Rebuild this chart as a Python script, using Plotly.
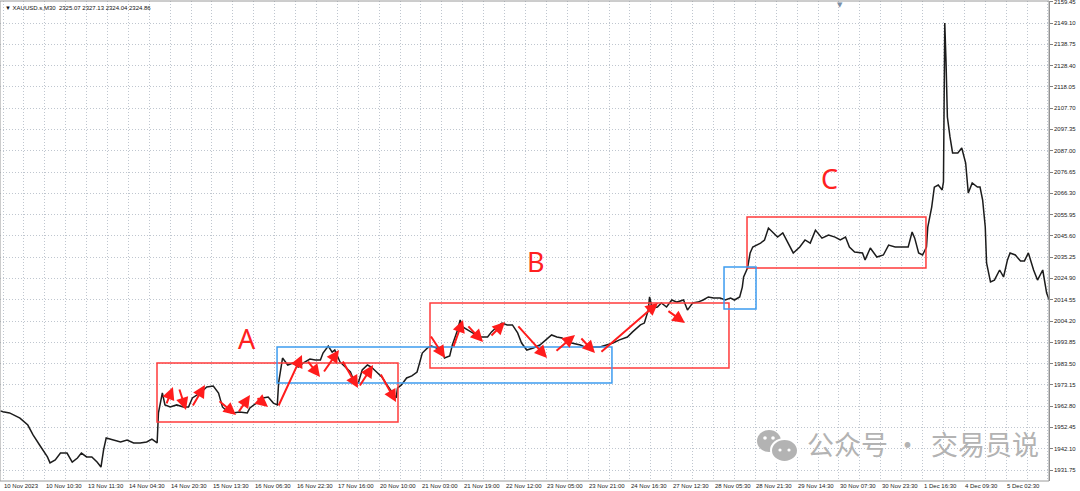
import plotly.graph_objects as go

# ---------------- data ----------------
bar_index = [-2, 0, 5, 13, 19, 23, 28, 34, 36, 40, 44, 49, 53, 57, 60, 64, 68, 72, 75, 77, 79,
             84, 90, 95, 100, 105, 110, 114, 118, 119, 122, 124, 128, 133, 138, 142, 145, 151,
             156, 161, 165, 168, 172, 176, 181, 187, 189, 194, 199, 203, 207, 210, 211, 214,
             218, 222, 226, 230, 235, 239, 243, 245, 249, 252, 254, 258, 262, 266, 269, 272,
             275, 279, 282, 286, 290, 294, 298, 301, 302, 305, 309, 313, 317, 319, 321, 325,
             328, 332, 336, 338, 342, 344, 348, 350, 352, 356, 360, 365, 371, 374, 378, 382,
             386, 390, 394, 397, 401, 406, 411, 416, 420, 424, 428, 432, 436, 442, 447, 452,
             457, 462, 467, 472, 478, 482, 488, 491, 494, 495, 497, 501, 504, 508, 512, 516,
             521, 524, 528, 532, 536, 540, 544, 549, 553, 557, 560, 564, 566, 567, 570, 572,
             574, 580, 583, 586, 589, 593, 597, 600, 605, 610, 614, 618, 622, 627, 632, 637,
             641, 645, 648, 652, 658, 660, 664, 669, 674, 678, 683, 688, 693, 696, 698, 701,
             704, 707, 708, 711, 713, 716, 719, 720, 721, 722, 723, 725, 727, 731, 734, 737,
             739, 742, 746, 748, 750, 752, 753, 756, 759, 763, 766, 769, 771, 775, 779, 782,
             785, 789, 792, 796, 799, 801]

close_price = [1960.5, 1960.1, 1959.5, 1957.0, 1953.6, 1948.8, 1943.9, 1938.1, 1935.2, 1936.6,
               1940.0, 1940.0, 1935.6, 1937.6, 1940.0, 1938.1, 1938.1, 1935.6, 1933.2, 1941.5,
               1947.3, 1946.3, 1945.4, 1946.3, 1944.9, 1944.9, 1945.4, 1946.8, 1944.9, 1959.5,
               1969.2, 1963.4, 1962.4, 1963.4, 1962.4, 1962.4, 1966.8, 1969.2, 1972.1, 1972.6,
               1969.2, 1962.4, 1960.0, 1959.5, 1960.0, 1959.5, 1961.9, 1964.3, 1966.8, 1967.2,
               1964.3, 1963.4, 1974.1, 1986.2, 1982.8, 1983.8, 1981.8, 1983.8, 1985.7, 1985.2,
               1985.2, 1988.6, 1992.0, 1989.1, 1990.1, 1984.3, 1981.8, 1979.4, 1974.5, 1974.1,
               1980.4, 1982.8, 1981.8, 1979.4, 1977.0, 1973.1, 1969.7, 1966.8, 1971.6, 1973.1,
               1976.5, 1977.5, 1979.4, 1983.8, 1988.6, 1991.1, 1992.0, 1991.1, 1990.1, 1986.2,
               1987.2, 1992.5, 1999.8, 2004.7, 2001.3, 1999.8, 1998.4, 1996.4, 1996.4, 1998.9,
               2001.3, 2003.2, 2002.3, 2002.3, 1998.4, 1993.5, 1990.1, 1991.1, 1992.5, 1995.0,
               1997.4, 1996.4, 1995.9, 1994.0, 1993.5, 1992.5, 1991.1, 1991.6, 1991.6, 1992.5,
               1993.5, 1995.0, 1996.4, 1998.9, 2002.3, 2003.2, 2009.5, 2015.9, 2010.5, 2011.0,
               2013.0, 2011.0, 2014.4, 2013.4, 2014.4, 2009.5, 2013.0, 2013.4, 2014.4, 2015.9,
               2015.4, 2015.4, 2014.4, 2015.4, 2014.4, 2015.9, 2020.7, 2025.6, 2030.0, 2037.3,
               2040.2, 2042.1, 2043.6, 2049.4, 2047.5, 2045.0, 2047.0, 2043.6, 2037.3, 2040.2,
               2043.6, 2042.1, 2048.4, 2044.5, 2046.0, 2045.0, 2043.6, 2045.0, 2040.2, 2037.7,
               2037.3, 2033.9, 2039.7, 2035.3, 2036.3, 2041.1, 2040.2, 2040.2, 2040.2, 2047.5,
               2044.5, 2037.3, 2036.3, 2040.2, 2049.9, 2059.6, 2069.3, 2070.3, 2067.9, 2071.8,
               2149.1, 2129.6, 2103.4, 2093.7, 2085.9, 2085.9, 2088.3, 2081.0, 2066.4, 2071.3,
               2069.3, 2069.3, 2063.0, 2049.9, 2032.4, 2023.2, 2024.1, 2029.0, 2025.6, 2033.9,
               2037.3, 2036.3, 2033.4, 2033.4, 2037.3, 2029.0, 2024.1, 2029.0, 2017.8, 2014.4]

price_tick_labels = ["1931.75", "1942.10", "1952.45", "1962.80", "1973.15", "1983.50", "1993.85",
                     "2004.20", "2014.55", "2024.90", "2035.25", "2045.60", "2055.95", "2066.30",
                     "2076.65", "2087.00", "2097.35", "2107.70", "2118.05", "2128.40", "2138.75",
                     "2149.10", "2159.45"]

time_labels = ["10 Nov 2023", "10 Nov 10:30", "13 Nov 11:30", "14 Nov 04:30", "14 Nov 20:30",
               "15 Nov 13:30", "16 Nov 06:30", "16 Nov 22:30", "17 Nov 16:00", "20 Nov 10:00",
               "21 Nov 03:00", "21 Nov 19:00", "22 Nov 12:00", "23 Nov 05:00", "23 Nov 21:00",
               "24 Nov 16:30", "27 Nov 12:30", "28 Nov 05:30", "28 Nov 21:30", "29 Nov 14:30",
               "30 Nov 07:30", "30 Nov 23:30", "1 Dec 16:30", "4 Dec 09:30", "5 Dec 02:30"]
bars_per_label = 32

# drawn objects on the chart (bar index / price)
red_boxes = [(117.9, 302.4, 1955.1, 1983.8),
             (326.9, 555.8, 1981.3, 2013.0),
             (569.6, 706.6, 2030.0, 2054.8)]
blue_boxes = [(209.8, 466.2, 1974.0, 1991.6),
              (552.0, 576.5, 2010.0, 2030.5)]
zone_letters = [("A", 186.8, 1995.9), ("B", 408.0, 2032.9), ("C", 633.1, 2073.7)]
# (tail bar, tail price, head bar, head price)
arrows = [(124.8, 1963.4, 130.1, 1972.1), (134.7, 1971.6, 140.1, 1960.9),
          (144.7, 1962.4, 154.6, 1973.1), (164.6, 1965.8, 178.4, 1958.5),
          (179.9, 1959.5, 189.1, 1968.2), (193.7, 1967.2, 202.9, 1962.4),
          (210.5, 1962.4, 228.9, 1987.7), (232.7, 1985.2, 242.7, 1977.0),
          (245.0, 1978.9, 257.2, 1990.1), (259.5, 1985.2, 271.8, 1971.6),
          (272.5, 1972.1, 283.3, 1982.8), (288.6, 1978.9, 300.9, 1964.8),
          (326.9, 1997.4, 338.4, 1986.2), (344.5, 1991.1, 352.2, 2004.7),
          (355.2, 2002.3, 367.5, 1994.0), (372.8, 1996.4, 384.3, 2003.7),
          (393.5, 2002.3, 416.5, 1986.2), (422.6, 1989.1, 437.9, 1997.4),
          (441.7, 1996.4, 453.2, 1988.6), (457.0, 1988.6, 501.4, 2013.0),
          (508.3, 2009.5, 522.1, 2003.2)]

# ---------------- figure ----------------
W, H = 1080, 491
ML, MR, MT, MB = 0, 31, 1, 10
PW, PH = W - ML - MR, H - MT - MB


def px(xp):
    return (xp - ML) / PW


def py(yp):
    return (H - MB - yp) / PH


fig = go.Figure()
fig.add_trace(go.Scatter(x=bar_index, y=close_price, mode="lines",
                         line=dict(color="#1c1c1c", width=1.5), hoverinfo="skip",
                         showlegend=False))

grid_color = "#bfc6cf"
fig.update_xaxes(range=[-2.3, 800.8], tickvals=list(range(0, 801, bars_per_label // 2)),
                 showticklabels=False, ticks="", showgrid=True, gridcolor=grid_color,
                 gridwidth=1, griddash="1px,2px", zeroline=False, showline=False,
                 fixedrange=True)
fig.update_yaxes(side="right", range=[1926.4, 2159.8],
                 tickvals=[float(v) for v in price_tick_labels], showticklabels=False,
                 ticks="outside", ticklen=3, tickcolor="#808080",
                 showgrid=True, gridcolor=grid_color, gridwidth=1, griddash="1px,2px",
                 zeroline=False, showline=True, linecolor="#8a8a8a", linewidth=1,
                 fixedrange=True)

shapes = []
# frame
shapes.append(dict(type="rect", xref="paper", yref="paper", x0=0, x1=1, y0=0, y1=1,
                   line=dict(color="#9a9a9a", width=1), fillcolor="rgba(0,0,0,0)", layer="above"))
for x0, x1, y0, y1 in red_boxes:
    shapes.append(dict(type="rect", xref="x", yref="y", x0=x0, x1=x1, y0=y0, y1=y1,
                       line=dict(color="#ff3b3b", width=1.5), fillcolor="rgba(0,0,0,0)"))
for x0, x1, y0, y1 in blue_boxes:
    shapes.append(dict(type="rect", xref="x", yref="y", x0=x0, x1=x1, y0=y0, y1=y1,
                       line=dict(color="#3d9cf0", width=1.5), fillcolor="rgba(0,0,0,0)"))

# WeChat-like watermark icon
wm = "#b3b3b3"
shapes.append(dict(type="circle", xref="paper", yref="paper", x0=px(757), x1=px(781),
                   y0=py(452), y1=py(430), line=dict(color=wm, width=0), fillcolor=wm))
shapes.append(dict(type="circle", xref="paper", yref="paper", x0=px(771), x1=px(798),
                   y0=py(462), y1=py(439), line=dict(color="white", width=2), fillcolor=wm))
for cx, cy, r in [(765, 438, 1.8), (773, 438, 1.8), (780, 450, 1.6), (789, 450, 1.6)]:
    shapes.append(dict(type="circle", xref="paper", yref="paper", x0=px(cx - r), x1=px(cx + r),
                       y0=py(cy + r), y1=py(cy - r), line=dict(width=0), fillcolor="white"))

annotations = []
axis_font = dict(family="Liberation Sans", size=6, color="#222222")
for k, lab in enumerate(time_labels):
    annotations.append(dict(x=k * bars_per_label, y=py(486), xref="x", yref="paper", text=lab,
                            showarrow=False, xanchor="left", yanchor="middle", borderpad=0,
                            font=axis_font))
for lab in price_tick_labels:
    annotations.append(dict(x=1, y=float(lab), xref="paper", yref="y", text=lab,
                            showarrow=False, xanchor="left", yanchor="middle", xshift=4,
                            borderpad=0, font=axis_font))
for letter, bx, by in zone_letters:
    annotations.append(dict(x=bx, y=by, xref="x", yref="y", text=letter, showarrow=False,
                            font=dict(family="Noto Sans", size=27, color="#ff2020")))
for tx, ty, hx, hy in arrows:
    annotations.append(dict(x=hx, y=hy, ax=tx, ay=ty, xref="x", yref="y", axref="x", ayref="y",
                            text="", showarrow=True, arrowhead=2, arrowsize=1.25, arrowwidth=2,
                            arrowcolor="#ff1c1c", standoff=0, startstandoff=0))
# header text
annotations.append(dict(x=px(3), y=1, xref="paper", yref="paper", yshift=-2,
                        text="▼ XAUUSD.s,M30  2325.07 2327.13 2324.04 2324.86",
                        showarrow=False, xanchor="left", yanchor="top",
                        font=dict(family="Liberation Sans", size=6, color="#111111")))
annotations.append(dict(x=px(840), y=1, xref="paper", yref="paper", text="▼", showarrow=False,
                        xanchor="center", yanchor="top", yshift=2,
                        font=dict(family="DejaVu Sans", size=7, color="#7d8ea6")))
# watermark text
for txt, cx in [("公众号", 847), ("·", 907), ("交易员说", 985)]:
    annotations.append(dict(x=px(cx), y=py(443), xref="paper", yref="paper", text=txt,
                            showarrow=False, xanchor="center", yanchor="middle",
                            font=dict(family="Noto Sans CJK SC", size=27, color=wm)))

fig.update_layout(width=W, height=H, margin=dict(l=ML, r=MR, t=MT, b=MB),
                  paper_bgcolor="white", plot_bgcolor="white", shapes=shapes,
                  annotations=annotations, showlegend=False)

fig.write_html("out.html", config={"displayModeBar": False},
               post_script="document.body.style.margin='0';document.body.style.overflow='hidden';")
